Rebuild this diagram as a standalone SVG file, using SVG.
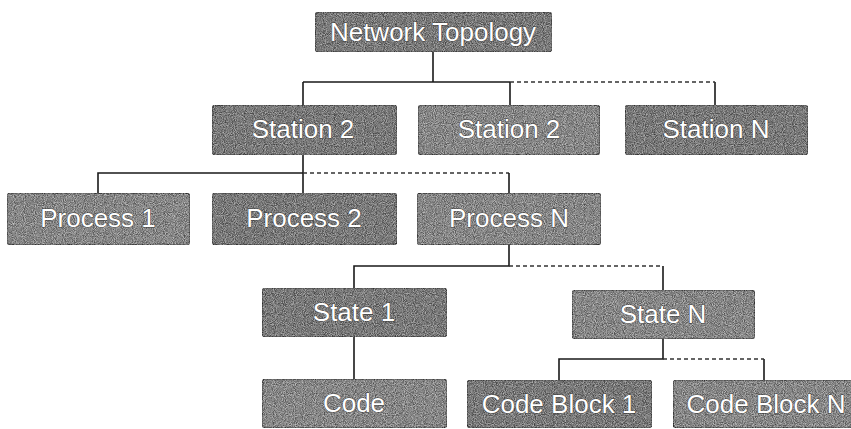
<svg xmlns="http://www.w3.org/2000/svg" width="851" height="429" viewBox="0 0 851 429">
<defs>
<filter id="grain" x="0" y="0" width="100%" height="100%" color-interpolation-filters="sRGB">
<feTurbulence type="fractalNoise" baseFrequency="1.1" numOctaves="1" seed="4" result="n"/>
<feColorMatrix in="n" type="matrix" values="1.6 0 0 0 -0.3  1.6 0 0 0 -0.3  1.6 0 0 0 -0.3  0 0 0 0 0.5" result="g"/>
<feComposite in="g" in2="SourceGraphic" operator="in" result="gc"/>
<feMerge><feMergeNode in="SourceGraphic"/><feMergeNode in="gc"/></feMerge>
</filter>
</defs>
<style>
.box{fill:#8c8c8c;stroke:#2e2e2e;stroke-width:1.5;filter:url(#grain)}
.dark{fill:#727272}
.lbl{font-family:"Liberation Sans",Arial,sans-serif;font-size:26px;fill:#ffffff;stroke:#3a3a3a;stroke-width:0.8;paint-order:stroke;text-anchor:middle;dominant-baseline:central}
.ln{stroke:#1a1a1a;stroke-width:1.6;fill:none}
.dsh{stroke:#333;stroke-width:1.3;fill:none;stroke-dasharray:4 3}
</style>
<rect width="851" height="429" fill="#ffffff"/>
<g id="connectors">
<path class="ln" d="M433 52V82M303 82H510M303 82V105M510 82V105M715 82V105"/>
<path class="dsh" d="M510 82H715"/>
<path class="ln" d="M303 155V193M98 193V173H303"/>
<path class="dsh" d="M303 173H509"/>
<path class="ln" d="M509 173V193"/>
<path class="ln" d="M509 245V266H354V288M354 337V379M663 266V290"/>
<path class="dsh" d="M509 266H663"/>
<path class="ln" d="M663 339V359H559V380M764 359V380"/>
<path class="dsh" d="M663 359H764"/>
</g>
<g id="network-topology"><rect class="box dark" x="315" y="12" width="237" height="40" rx="4"/><text class="lbl" x="433" y="32">Network Topology</text></g>
<g id="station-2a"><rect class="box dark" x="212" y="105" width="185" height="50" rx="4"/><text class="lbl" x="303" y="129">Station 2</text></g>
<g id="station-2b"><rect class="box" x="418" y="105" width="182" height="50" rx="4"/><text class="lbl" x="509" y="129">Station 2</text></g>
<g id="station-n"><rect class="box dark" x="625" y="105" width="183" height="50" rx="4"/><text class="lbl" x="716" y="129">Station N</text></g>
<g id="process-1"><rect class="box" x="7" y="193" width="183" height="52" rx="4"/><text class="lbl" x="98" y="218">Process 1</text></g>
<g id="process-2"><rect class="box dark" x="212" y="193" width="185" height="52" rx="4"/><text class="lbl" x="304" y="218">Process 2</text></g>
<g id="process-n"><rect class="box" x="417" y="193" width="184" height="52" rx="4"/><text class="lbl" x="509" y="218">Process N</text></g>
<g id="state-1"><rect class="box dark" x="262" y="288" width="185" height="49" rx="4"/><text class="lbl" x="354" y="312">State 1</text></g>
<g id="state-n"><rect class="box" x="572" y="290" width="183" height="49" rx="4"/><text class="lbl" x="663" y="314">State N</text></g>
<g id="code"><rect class="box" x="262" y="379" width="185" height="49" rx="4"/><text class="lbl" x="354" y="403">Code</text></g>
<g id="code-block-1"><rect class="box dark" x="467" y="380" width="185" height="48" rx="4"/><text class="lbl" x="559" y="404">Code Block 1</text></g>
<g id="code-block-n"><rect class="box" x="673" y="380" width="190" height="48" rx="4"/><text class="lbl" x="766" y="404">Code Block N</text></g>
</svg>
